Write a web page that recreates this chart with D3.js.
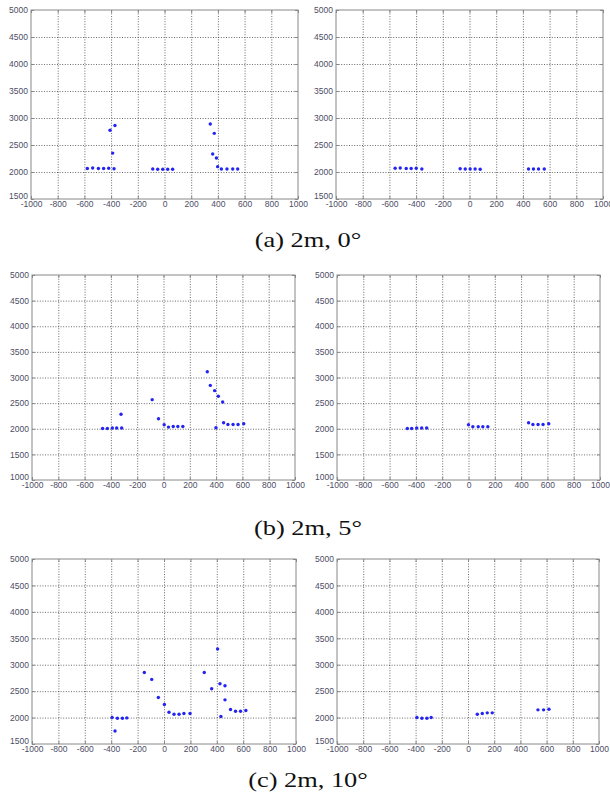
<!DOCTYPE html>
<meta charset="utf-8">
<style>

body {
  margin: 0;
  background: #fff;
}

.tick-label {
  font-family: "Liberation Sans", Arial, sans-serif;
  font-size: 8.5px;
  fill: #4d4d66;
}

.grid line {
  stroke: #222;
  stroke-opacity: 0.85;
  stroke-width: 0.8px;
  stroke-dasharray: 1,1.6;
}

.frame {
  fill: none;
  stroke: #888;
  stroke-width: 1px;
}

.inner-ticks line {
  stroke: #888;
}

.caption {
  font-family: "Liberation Serif", "Times New Roman", serif;
  font-size: 22px;
  fill: #111;
}

</style>
<svg></svg>
<script src="https://cdn.jsdelivr.net/npm/d3@7"></script>
<script>

var xTicks = [-1000, -800, -600, -400, -200, 0, 200, 400, 600, 800, 1000];
var yTicks1500 = [1500, 2000, 2500, 3000, 3500, 4000, 4500, 5000];
var yTicks1000 = [1000, 1500, 2000, 2500, 3000, 3500, 4000, 4500, 5000];

var captions = ["(a) 2m, 0°", "(b) 2m, 5°", "(c) 2m, 10°"];

// (a) 2m, 0 deg
var a0RawX = [-578, -538, -495, -456, -418, -378, -408, -388, -371, -88, -51, -13, 24, 61, 343, 373, 361, 389, 398, 426, 468, 511, 548];
var a0RawY = [2065, 2075, 2065, 2065, 2070, 2060, 2772, 2350, 2860, 2055, 2050, 2050, 2050, 2050, 2889, 2716, 2333, 2259, 2099, 2056, 2056, 2056, 2056];
var a0FiltX = [-557, -519, -474, -437, -399, -357, -70, -32, 5, 42, 80, 442, 479, 517, 560];
var a0FiltY = [2070, 2075, 2065, 2065, 2070, 2055, 2060, 2055, 2055, 2055, 2050, 2055, 2055, 2055, 2055];

// (b) 2m, 5 deg
var b5RawX = [-463, -427, -389, -356, -318, -323, -86, -38, 5, 38, 74, 109, 147, 333, 356, 389, 417, 450, 399, 457, 490, 529, 567, 610];
var b5RawY = [2005, 2005, 2015, 2015, 2015, 2284, 2568, 2194, 2078, 2032, 2045, 2045, 2045, 3111, 2846, 2743, 2633, 2523, 2019, 2116, 2084, 2084, 2084, 2097];
var b5FiltX = [-465, -432, -394, -356, -318, 0, 33, 74, 109, 147, 457, 490, 529, 567, 610];
var b5FiltY = [2005, 2005, 2015, 2015, 2015, 2078, 2039, 2039, 2039, 2039, 2116, 2084, 2084, 2084, 2097];

// (c) 2m, 10 deg
var c10RawX = [-393, -353, -315, -282, -371, -149, -93, -43, 3, 38, 76, 114, 151, 197, 305, 361, 406, 424, 462, 462, 431, 504, 542, 580, 620];
var c10RawY = [2000, 1988, 1988, 1994, 1747, 2854, 2722, 2380, 2247, 2101, 2063, 2063, 2076, 2076, 2854, 2544, 3297, 2639, 2601, 2335, 2019, 2152, 2120, 2120, 2133];
var c10FiltX = [-390, -352, -314, -281, 71, 109, 147, 185, 534, 577, 618];
var c10FiltY = [2000, 1988, 1988, 2000, 2063, 2076, 2089, 2089, 2146, 2146, 2158];

var width = 610,
    height = 800;

var svg = d3.select("svg")
    .attr("width", width)
    .attr("height", height);

// one row per case: plot box of left and right panel, caption baseline
var rows = [
  { top: 10,  bottom: 199, yTicks: yTicks1500, left: [31, 298], right: [336, 603], capY: 247,
    raw: [a0RawX, a0RawY], filt: [a0FiltX, a0FiltY] },
  { top: 275, bottom: 480, yTicks: yTicks1000, left: [32, 295], right: [337, 600], capY: 535,
    raw: [b5RawX, b5RawY], filt: [b5FiltX, b5FiltY] },
  { top: 559, bottom: 744, yTicks: yTicks1500, left: [32, 296], right: [337, 599], capY: 787,
    raw: [c10RawX, c10RawY], filt: [c10FiltX, c10FiltY] }
];

rows.forEach(function(row, i) {
  drawPanel(row.left, row, row.raw);
  drawPanel(row.right, row, row.filt);

  svg.append("text")
      .attr("class", "caption")
      .attr("text-anchor", "middle")
      .attr("transform", "translate(308," + row.capY + ") scale(1.2,1)")
      .text(captions[i]);
});

function plain(d) { return String(d); }

function drawPanel(xr, row, series) {
  var yTicks = row.yTicks;
  var x = d3.scaleLinear().domain([-1000, 1000]).range(xr);
  var y = d3.scaleLinear().domain([yTicks[0], yTicks[yTicks.length - 1]]).range([row.bottom, row.top]);
  var h = row.bottom - row.top,
      w = xr[1] - xr[0];

  var g = svg.append("g");

  // dotted grid
  g.append("g")
      .attr("class", "grid")
      .attr("transform", "translate(0," + row.bottom + ")")
      .call(d3.axisBottom(x).tickValues(xTicks.slice(1, -1)).tickSize(-h).tickFormat(""))
      .call(function(s) { s.select(".domain").remove(); });

  g.append("g")
      .attr("class", "grid")
      .attr("transform", "translate(" + xr[0] + ",0)")
      .call(d3.axisLeft(y).tickValues(yTicks.slice(1, -1)).tickSize(-w).tickFormat(""))
      .call(function(s) { s.select(".domain").remove(); });

  // small inward ticks on all four sides
  [d3.axisBottom(x).tickValues(xTicks).tickSize(-3).tickFormat(""),
   d3.axisTop(x).tickValues(xTicks).tickSize(-3).tickFormat("")].forEach(function(ax, k) {
    g.append("g")
        .attr("class", "inner-ticks")
        .attr("transform", "translate(0," + (k == 0 ? row.bottom : row.top) + ")")
        .call(ax)
        .call(function(s) { s.select(".domain").remove(); });
  });
  [d3.axisLeft(y).tickValues(yTicks).tickSize(-3).tickFormat(""),
   d3.axisRight(y).tickValues(yTicks).tickSize(-3).tickFormat("")].forEach(function(ax, k) {
    g.append("g")
        .attr("class", "inner-ticks")
        .attr("transform", "translate(" + (k == 0 ? xr[0] : xr[1]) + ",0)")
        .call(ax)
        .call(function(s) { s.select(".domain").remove(); });
  });

  g.append("rect")
      .attr("class", "frame")
      .attr("x", xr[0])
      .attr("y", row.top)
      .attr("width", w)
      .attr("height", h);

  // tick labels
  var xl = g.append("g")
      .attr("transform", "translate(0," + row.bottom + ")")
      .call(d3.axisBottom(x).tickValues(xTicks).tickSize(0).tickPadding(2).tickFormat(plain));
  xl.select(".domain").remove();
  xl.attr("font-family", null).attr("font-size", null);
  xl.selectAll("text").attr("class", "tick-label").attr("fill", null);

  var yl = g.append("g")
      .attr("transform", "translate(" + xr[0] + ",0)")
      .call(d3.axisLeft(y).tickValues(yTicks).tickSize(0).tickPadding(3).tickFormat(plain));
  yl.select(".domain").remove();
  yl.attr("font-family", null).attr("font-size", null);
  yl.selectAll("text").attr("class", "tick-label").attr("fill", null);
  // lowest label sits a little above the corner, as in the original
  yl.selectAll("text").filter(function(d) { return d == yTicks[0]; }).attr("dy", "-0.05em");

  // points
  var pts = series[0].map(function(d, j) { return { x: d, y: series[1][j] }; });
  g.append("g")
    .selectAll("circle")
    .data(pts)
    .enter().append("circle")
      .attr("cx", function(d) { return x(d.x); })
      .attr("cy", function(d) { return y(d.y); })
      .attr("r", 1.7)
      .attr("fill", "#2424f2");
}

</script>
